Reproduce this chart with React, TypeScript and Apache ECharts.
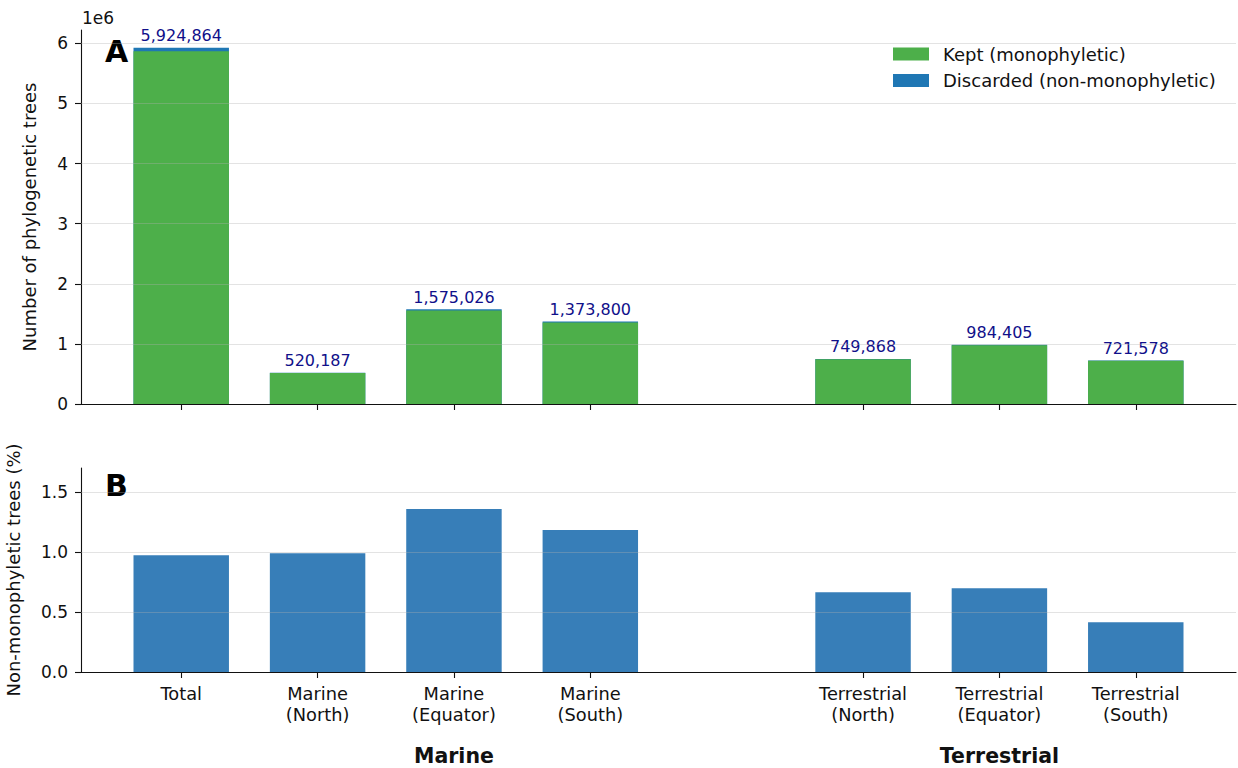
import React, { useEffect, useRef } from 'react';
import * as echarts from 'echarts';

// Categories and their slot on the shared x scale (slot 4 is the gap between groups)
const categories = [
  'Total',
  'Marine\n(North)',
  'Marine\n(Equator)',
  'Marine\n(South)',
  'Terrestrial\n(North)',
  'Terrestrial\n(Equator)',
  'Terrestrial\n(South)',
];
const slots = [0, 1, 2, 3, 5, 6, 7];

// Panel A: number of phylogenetic trees
const totalTrees = [5924864, 520187, 1575026, 1373800, 749868, 984405, 721578];
const discardedTrees = [57590, 5145, 21389, 16252, 4979, 6861, 2987];

// Panel B: share of non-monophyletic trees (%)
const nonMonoPct = [0.972, 0.989, 1.358, 1.183, 0.664, 0.697, 0.414];

// Group captions under the x axis
const groupNames = ['Marine', 'Terrestrial'];
const groupSlots = [2, 6];

// Tick values
const countTicks = [0, 1e6, 2e6, 3e6, 4e6, 5e6, 6e6];
const pctTicks = [0, 0.5, 1.0, 1.5];

const FONT = 'DejaVu Sans';
const INK = '#111111';
const GRID_LINE = 'rgba(176,176,176,0.35)';
const X_MIN = -0.735;
const X_MAX = 7.735;
const COUNT_MAX = 6221107;
const PCT_MAX = 1.7;

const axisLineStyle = { color: INK, width: 1.1 };

function gridMarkLine(values: number[]) {
  return {
    silent: true,
    symbol: ['none', 'none'],
    label: { show: false },
    lineStyle: { color: GRID_LINE, type: 'solid', width: 1 },
    data: values.filter((v) => v > 0).map((v) => ({ yAxis: v })),
  };
}

function baseXAxis(gridIndex: number) {
  return {
    type: 'value',
    gridIndex,
    position: 'bottom',
    min: X_MIN,
    max: X_MAX,
    axisLine: { show: true, onZero: false, lineStyle: axisLineStyle },
    axisTick: { show: true, customValues: slots, length: 6, lineStyle: axisLineStyle },
    splitLine: { show: false },
  };
}

function buildOption() {
  const keptTrees = totalTrees.map((t, i) => t - discardedTrees[i]);
  return {
    animation: false,
    backgroundColor: '#ffffff',
    textStyle: { fontFamily: FONT },
    grid: [
      { left: 81, right: 2, top: 30, bottom: 364, outerBoundsMode: 'none', containLabel: false },
      { left: 81, right: 2, top: 468, bottom: 96, outerBoundsMode: 'none', containLabel: false },
    ],
    legend: {
      data: ['Kept (monophyletic)', 'Discarded (non-monophyletic)'],
      orient: 'vertical',
      left: 888,
      top: 40,
      icon: 'rect',
      itemWidth: 36,
      itemHeight: 13,
      itemGap: 8.5,
      textStyle: { fontSize: 18, color: INK, fontFamily: FONT, padding: [0, 0, 0, 9] },
    },
    xAxis: [
      {
        ...baseXAxis(0),
        axisLabel: { show: false },
      },
      {
        ...baseXAxis(1),
        axisLabel: {
          show: true,
          customValues: slots,
          formatter: (v: number) => categories[slots.indexOf(v)] ?? '',
          fontSize: 17.8,
          lineHeight: 21.5,
          margin: 10.5,
          color: INK,
          fontFamily: FONT,
        },
      },
      {
        type: 'value',
        gridIndex: 1,
        position: 'bottom',
        offset: 0,
        min: X_MIN,
        max: X_MAX,
        axisLine: { show: false, onZero: false },
        axisTick: { show: false },
        splitLine: { show: false },
        axisLabel: {
          show: true,
          customValues: groupSlots,
          formatter: (v: number) => groupNames[groupSlots.indexOf(v)] ?? '',
          fontSize: 20.5,
          fontWeight: 'bold',
          lineHeight: 22,
          margin: 73,
          color: INK,
          fontFamily: FONT,
        },
      },
    ],
    yAxis: [
      {
        type: 'value',
        gridIndex: 0,
        min: 0,
        max: COUNT_MAX,
        axisLine: { show: true, onZero: false, lineStyle: axisLineStyle },
        axisTick: { show: true, customValues: countTicks, length: 6, lineStyle: axisLineStyle },
        axisLabel: {
          customValues: countTicks,
          formatter: (v: number) => String(Math.round(v / 1e6)),
          margin: 13,
          fontSize: 17,
          color: INK,
          fontFamily: FONT,
        },
        splitLine: { show: false },
        name: 'Number of phylogenetic trees',
        nameLocation: 'middle',
        nameGap: 43,
        nameTextStyle: { fontSize: 18, color: INK, fontFamily: FONT },
      },
      {
        type: 'value',
        gridIndex: 1,
        min: 0,
        max: PCT_MAX,
        axisLine: { show: true, onZero: false, lineStyle: axisLineStyle },
        axisTick: { show: true, customValues: pctTicks, length: 6, lineStyle: axisLineStyle },
        axisLabel: {
          customValues: pctTicks,
          formatter: (v: number) => v.toFixed(1),
          margin: 13,
          fontSize: 17,
          color: INK,
          fontFamily: FONT,
        },
        splitLine: { show: false },
        name: 'Non-monophyletic trees (%)',
        nameLocation: 'middle',
        nameGap: 59,
        nameTextStyle: { fontSize: 18, color: INK, fontFamily: FONT },
      },
    ],
    series: [
      // Full-height column (kept + discarded); the kept column is laid over it,
      // so only the discarded share shows at the top.
      {
        name: 'Discarded (non-monophyletic)',
        type: 'bar',
        xAxisIndex: 0,
        yAxisIndex: 0,
        barWidth: '70%',
        barGap: '-100%',
        data: slots.map((s, i) => [s, totalTrees[i]]),
        itemStyle: { color: '#1f77b4' },
        label: {
          show: true,
          position: 'top',
          distance: 4,
          formatter: (p: any) => totalTrees[p.dataIndex].toLocaleString('en-US'),
          color: '#10108a',
          fontSize: 16,
          fontFamily: FONT,
        },
      },
      {
        name: 'Kept (monophyletic)',
        type: 'bar',
        xAxisIndex: 0,
        yAxisIndex: 0,
        barWidth: '70%',
        barGap: '-100%',
        data: slots.map((s, i) => [s, keptTrees[i]]),
        itemStyle: { color: '#4daf4a' },
        markLine: gridMarkLine(countTicks),
      },
      {
        name: 'Non-monophyletic (%)',
        type: 'bar',
        xAxisIndex: 1,
        yAxisIndex: 1,
        barWidth: '70%',
        data: slots.map((s, i) => [s, nonMonoPct[i]]),
        itemStyle: { color: '#377eb8' },
        markLine: gridMarkLine(pctTicks),
      },
    ],
    graphic: [
      {
        type: 'text',
        x: 82,
        y: 18,
        style: { text: '1e6', fontSize: 17, fontFamily: FONT, fill: INK, align: 'left', verticalAlign: 'middle' },
      },
      {
        type: 'text',
        x: 105,
        y: 51,
        style: { text: 'A', fontSize: 30, fontWeight: 'bold', fontFamily: FONT, fill: '#000', align: 'left', verticalAlign: 'middle' },
      },
      {
        type: 'text',
        x: 105,
        y: 485,
        style: { text: 'B', fontSize: 30, fontWeight: 'bold', fontFamily: FONT, fill: '#000', align: 'left', verticalAlign: 'middle' },
      },
    ],
  };
}

export default function App() {
  const ref = useRef<HTMLDivElement>(null);

  useEffect(() => {
    if (!ref.current) return;
    const chart = echarts.init(ref.current, undefined, { renderer: 'svg' });
    chart.setOption(buildOption() as any);
    return () => chart.dispose();
  }, []);

  return (
    <div
      ref={ref}
      style={{ position: 'fixed', left: 0, top: 0, width: 1238, height: 768, background: '#fff' }}
    />
  );
}
